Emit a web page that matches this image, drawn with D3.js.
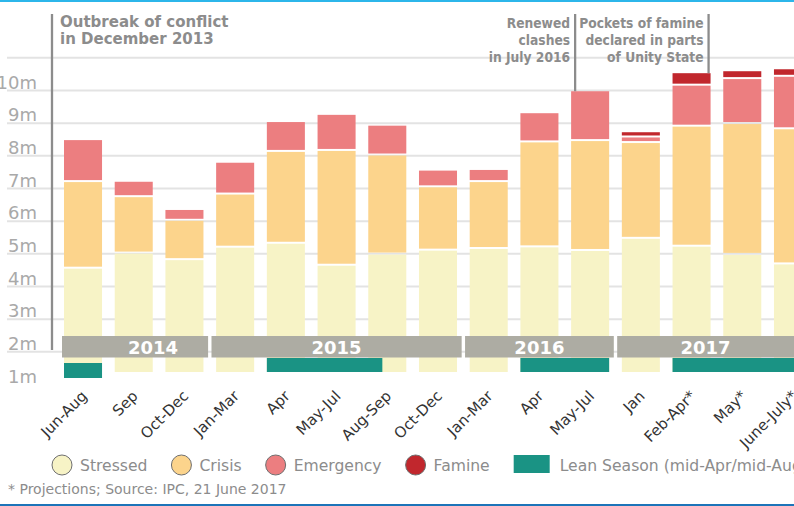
<!DOCTYPE html>
<html>
<head>
<meta charset="utf-8">
<script src="https://cdn.jsdelivr.net/npm/d3@7"></script>
<style>
    body { margin: 0; background: #fff; }
    svg { display: block; font-family: "DejaVu Sans", Verdana, sans-serif; }
</style>
</head>
<body>
<script>
// chart frame
var w = 794, h = 506;

// periods along the x axis (one bar each)
var periods = ["Jun-Aug", "Sep", "Oct-Dec", "Jan-Mar", "Apr", "May-Jul", "Aug-Sep", "Oct-Dec",
    "Jan-Mar", "Apr", "May-Jul", "Jan", "Feb-Apr*", "May*", "June-July*"];
var periodYears = [2014, 2014, 2014, 2015, 2015, 2015, 2015, 2015, 2016, 2016, 2016, 2017, 2017, 2017, 2017];

// people in each IPC phase, millions
var stressed  = [3.15, 3.61, 3.41, 3.79, 3.91, 3.24, 3.58, 3.70, 3.75, 3.80, 3.69, 4.06, 3.82, 3.57, 3.28];
var crisis    = [2.64, 1.72, 1.20, 1.62, 2.80, 3.50, 3.02, 1.93, 2.04, 3.20, 3.35, 2.92, 3.66, 3.99, 4.12];
var emergency = [1.28, 0.47, 0.33, 0.97, 0.91, 1.10, 0.91, 0.51, 0.37, 0.89, 1.52, 0.17, 1.25, 1.37, 1.60];
var famine    = [0, 0, 0, 0, 0, 0, 0, 0, 0, 0, 0, 0.16, 0.38, 0.24, 0.23];

// y axis tick values (as printed on the chart)
var tickValues = [1, 2, 3, 4, 5, 6, 7, 8, 9, 10, 11];

// lean seasons: first bar, last bar, share of the last bar covered
var leanSeasons = [[0, 0, 1], [4, 6, 0.37], [9, 10, 1], [12, 14, 1]];

// notes above the bars
var notes = [
    { bar: 0, lines: ["Outbreak of conflict", "in December 2013"] },
    { bar: 10, lines: ["Renewed", "clashes", "in July 2016"] },
    { bar: 12, lines: ["Pockets of famine", "declared in parts", "of Unity State"] }
];

var phases = ["stressed", "crisis", "emergency", "famine"];
var phaseNames = ["Stressed", "Crisis", "Emergency", "Famine"];
var colors = { stressed: "#f7f3c6", crisis: "#fcd48c", emergency: "#ec7e80", famine: "#c1272d" };
var leanColor = "#1a9384";
var grey = "#8c8c8c";

var svg = d3.select("body").append("svg")
    .attr("width", w)
    .attr("height", h);

// top and bottom rules
svg.append("rect").attr("x", 0).attr("y", 0).attr("width", w).attr("height", 2).attr("fill", "#2cb6ea");
svg.append("rect").attr("x", 0).attr("y", h - 2).attr("width", w).attr("height", 2).attr("fill", "#1c74b9");

// scales
var x = d3.scaleBand()
    .domain(d3.range(periods.length))
    .range([64, 812])
    .paddingInner(0.25);

var y = d3.scaleLinear()
    .domain([0, 11])
    .range([372, 11.2]);

// the printed axis sits a little off the bars in the original
var yTick = d3.scaleLinear()
    .domain([1, 10])
    .range([384, 90]);

// gridlines and labels
var axis = svg.append("g")
    .attr("class", "axis")
    .attr("transform", "translate(7,0)")
    .call(d3.axisRight(yTick)
        .tickValues(tickValues)
        .tickSize(w - 7)
        .tickFormat(function (d) { return d < 11 ? d + "m" : ""; }))
    .attr("font-family", null)
    .attr("font-size", null);

axis.select(".domain").remove();
axis.selectAll(".tick line")
    .attr("stroke", "#e3e3e3")
    .attr("stroke-width", 2)
    .attr("opacity", function (d) { return d === 1 ? 0 : 1; });
axis.selectAll(".tick text")
    .attr("x", 30)
    .attr("dy", -2)
    .attr("text-anchor", "end")
    .attr("fill", "#a9a9a9")
    .style("font-size", "18px");

// stacked bars
var rows = periods.map(function (p, i) {
    return { stressed: stressed[i], crisis: crisis[i], emergency: emergency[i], famine: famine[i] };
});
var stack = d3.stack().keys(phases)(rows);
var gap = 2;

svg.selectAll(".layer")
    .data(stack)
    .enter()
    .append("g")
    .attr("class", "layer")
    .attr("fill", function (d) { return colors[d.key]; })
    .selectAll("rect")
    .data(function (d) { return d.map(function (v, i) { return { v: v, i: i }; }); })
    .enter()
    .filter(function (d) { return d.v[1] - d.v[0] > 0; })
    .append("rect")
    .attr("x", function (d) { return x(d.i); })
    .attr("width", x.bandwidth())
    .attr("y", function (d) { return y(d.v[1]); })
    .attr("height", function (d) {
        return y(d.v[0]) - y(d.v[1]) - (d.v[0] > 0 ? gap : 0);
    });

// year strip
var yearGroups = d3.groups(d3.range(periods.length), function (i) { return periodYears[i]; });
var half = (x.step() - x.bandwidth()) / 2;

var years = svg.selectAll(".year")
    .data(yearGroups)
    .enter()
    .append("g")
    .attr("class", "year");

function yearStart(g) {
    var i = g[1][0];
    return i === 0 ? x(i) - 2 : x(i) - half + 1.7;
}
function yearEnd(g) {
    var i = g[1][g[1].length - 1];
    return i === periods.length - 1 ? w : x(i) + x.bandwidth() + half - 1.7;
}

years.append("rect")
    .attr("x", yearStart)
    .attr("y", 336)
    .attr("width", function (g) { return yearEnd(g) - yearStart(g); })
    .attr("height", 21.5)
    .attr("fill", "#adaca3");

years.append("text")
    .attr("x", function (g, i) {
        // first label sits right of centre in the original
        return (yearStart(g) + yearEnd(g)) / 2 + (i === 0 ? 18 : 0);
    })
    .attr("y", 353.5)
    .attr("text-anchor", "middle")
    .attr("fill", "#fff")
    .style("font-size", "18px")
    .style("font-weight", "bold")
    .text(function (g) { return g[0]; });

// lean season blocks
svg.selectAll(".lean")
    .data(leanSeasons)
    .enter()
    .append("rect")
    .attr("class", "lean")
    .attr("x", function (d) { return x(d[0]); })
    .attr("y", function (d, i) { return i === 0 ? 363 : 358; })
    .attr("width", function (d) { return x(d[1]) + x.bandwidth() * d[2] - x(d[0]); })
    .attr("height", function (d, i) { return i === 0 ? 15 : 14; })
    .attr("fill", leanColor);

// x labels
svg.selectAll(".xlabel")
    .data(periods)
    .enter()
    .append("text")
    .attr("class", "xlabel")
    .attr("text-anchor", "end")
    .attr("transform", function (d, i) {
        return "translate(" + (x(i) + x.bandwidth() / 2 + 5) + ",397) rotate(-45)";
    })
    .attr("fill", "#333")
    .style("font-size", "15px")
    .text(function (d) { return d; });

// notes with their leader lines
function totalAt(i) {
    return stressed[i] + crisis[i] + emergency[i] + famine[i];
}
function noteX(n) {
    if (n.bar === 0) return x(0) - 12;
    if (n.bar === 10) return x(n.bar) + 4;
    return x(n.bar) + x.bandwidth() - 2;
}

notes.forEach(function (n) {
    var lx = noteX(n);
    var first = n.bar === 0;
    svg.append("line")
        .attr("x1", lx).attr("x2", lx)
        .attr("y1", 14)
        .attr("y2", first ? 350 : y(totalAt(n.bar)))
        .attr("stroke", grey)
        .attr("stroke-width", 2.3);

    // the right-hand notes are set in a narrower bold face
    var t = svg.append("text")
        .attr("transform", first ? "translate(" + (lx + 8) + ",0)" : "translate(" + (lx - 5) + ",0) scale(0.88,1)")
        .attr("fill", grey)
        .attr("text-anchor", first ? "start" : "end")
        .style("font-size", first ? "15px" : "14px")
        .style("font-weight", "bold");
    t.selectAll("tspan")
        .data(n.lines)
        .enter()
        .append("tspan")
        .attr("x", 0)
        .attr("y", function (d, k) { return (first ? 27 : 28) + k * 17; })
        .text(function (d) { return d; });
});

// legend
var legend = svg.append("g").attr("class", "legend");
var lx = 52;
phases.forEach(function (p, i) {
    legend.append("circle")
        .attr("cx", lx + 10)
        .attr("cy", 465)
        .attr("r", 10)
        .attr("fill", colors[p])
        .attr("stroke", "#6f6f6f")
        .attr("stroke-width", 1);
    var t = legend.append("text")
        .attr("x", lx + 28)
        .attr("y", 471)
        .attr("fill", grey)
        .style("font-size", "15.6px")
        .text(phaseNames[i]);
    lx = lx + 28 + t.node().getComputedTextLength() + 24;
});
legend.append("rect")
    .attr("x", lx)
    .attr("y", 455)
    .attr("width", 36)
    .attr("height", 18)
    .attr("fill", leanColor);
legend.append("text")
    .attr("x", lx + 46)
    .attr("y", 471)
    .attr("fill", grey)
    .style("font-size", "15.6px")
    .text("Lean Season (mid-Apr/mid-Aug)");

// footnote
svg.append("text")
    .attr("x", 8)
    .attr("y", 494)
    .attr("fill", grey)
    .style("font-size", "14px")
    .text("* Projections; Source: IPC, 21 June 2017");
</script>
</body>
</html>
